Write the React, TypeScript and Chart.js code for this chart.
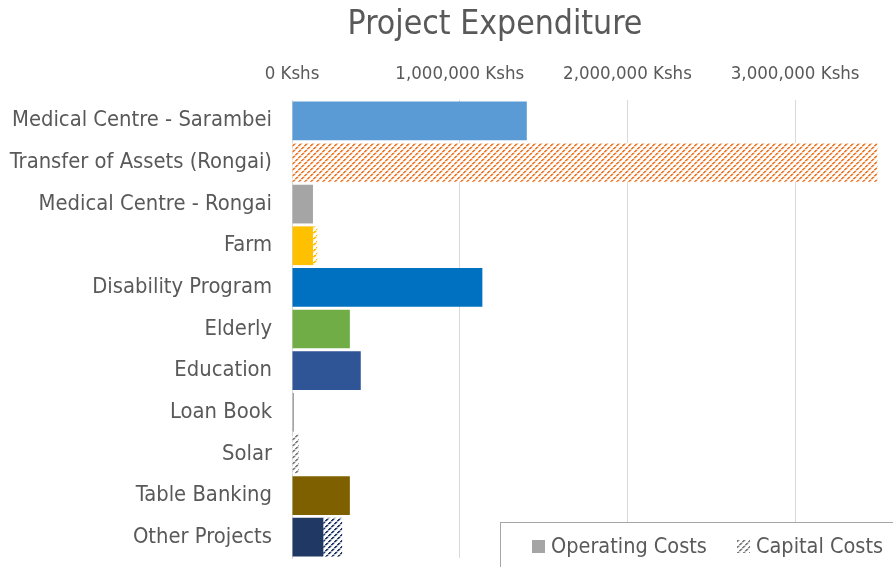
import React, { useEffect, useRef } from "react";
import { Chart, registerables } from "chart.js";
Chart.register(...registerables);

const chartTitle = "Project Expenditure";
const categories = [
  "Medical Centre - Sarambei",
  "Transfer of Assets (Rongai)",
  "Medical Centre - Rongai",
  "Farm",
  "Disability Program",
  "Elderly",
  "Education",
  "Loan Book",
  "Solar",
  "Table Banking",
  "Other Projects",
];
const operatingCosts = [1400000, 0, 125000, 125000, 1135000, 345000, 410000, 12000, 0, 345000, 187000];
const capitalCosts = [0, 3490000, 0, 25000, 0, 0, 0, 0, 40000, 0, 112000];
const barColors = [
  "#5B9BD5",
  "#ED7D31",
  "#A5A5A5",
  "#FFC000",
  "#0070C0",
  "#70AD47",
  "#2F5597",
  "#A5A5A5",
  "#7F7F7F",
  "#7F6000",
  "#203864",
];
const xTickValues = [0, 1000000, 2000000, 3000000];
const xMax = 3500000;
const seriesNames = ["Operating Costs", "Capital Costs"];

const FONT = "'DejaVu Sans Condensed', Lato";
const TEXT = "#595959";

function makePattern(ctx: CanvasRenderingContext2D, color: string): CanvasPattern {
  const n = 6;
  const c = document.createElement("canvas");
  c.width = n;
  c.height = n;
  const g = c.getContext("2d")!;
  g.fillStyle = "#ffffff";
  g.fillRect(0, 0, n, n);
  g.fillStyle = color;
  for (let y = 0; y < n; y++) {
    const x = n - 1 - y;
    const strong = y % 3 !== 2;
    g.globalAlpha = strong ? 1 : 0.4;
    g.fillRect(x, y, 1, 1);
    g.fillRect((x + 1) % n, y, 1, 1);
    g.globalAlpha = strong ? 0.35 : 0.15;
    g.fillRect((x + 2) % n, y, 1, 1);
  }
  return ctx.createPattern(c, "repeat")!;
}

export default function App() {
  const ref = useRef<HTMLCanvasElement>(null);
  useEffect(() => {
    document.body.style.margin = "0";
    const canvas = ref.current!;
    const ctx = canvas.getContext("2d")!;
    const patterns = barColors.map((c) => makePattern(ctx, c));
    const legendPattern = makePattern(ctx, "#7F7F7F");

    const overlay = {
      id: "overlay",
      afterDraw(chart: any) {
        const c = chart.ctx as CanvasRenderingContext2D;
        c.save();
        c.fillStyle = TEXT;
        c.font = `33.5px ${FONT}`;
        c.textAlign = "center";
        c.textBaseline = "middle";
        c.fillText(chartTitle, 495, 25);
        c.fillStyle = "#ffffff";
        c.fillRect(500, 522, 400, 50);
        c.strokeStyle = "#A6A6A6";
        c.lineWidth = 1;
        c.strokeRect(500.5, 522.5, 400, 50);
        c.fillStyle = "#A5A5A5";
        c.fillRect(532, 540, 13, 13);
        c.fillStyle = legendPattern;
        c.fillRect(737, 540, 13, 13);
        c.fillStyle = TEXT;
        c.font = `21.5px ${FONT}`;
        c.textAlign = "left";
        c.textBaseline = "middle";
        c.fillText(seriesNames[0], 551, 547);
        c.fillText(seriesNames[1], 756, 547);
        c.restore();
      },
    };

    const chart = new Chart(canvas, {
      type: "bar",
      data: {
        labels: categories,
        datasets: [
          {
            label: seriesNames[0],
            data: operatingCosts,
            backgroundColor: barColors,
            borderWidth: 0,
            categoryPercentage: 1,
            barPercentage: 0.93,
          },
          {
            label: seriesNames[1],
            data: capitalCosts,
            backgroundColor: patterns,
            borderWidth: 0,
            categoryPercentage: 1,
            barPercentage: 0.93,
          },
        ],
      },
      options: {
        indexAxis: "y",
        responsive: false,
        animation: false,
        devicePixelRatio: 1,
        layout: { padding: { left: 0, top: 0, right: 14, bottom: 9 } },
        plugins: {
          legend: { display: false },
          title: { display: false },
          tooltip: { enabled: false },
        },
        scales: {
          x: {
            type: "linear",
            position: "top",
            stacked: true,
            min: 0,
            max: xMax,
            afterBuildTicks: (scale: any) => {
              scale.ticks = xTickValues.map((v) => ({ value: v }));
            },
            afterFit: (scale: any) => {
              scale.height = 100;
              scale.paddingLeft = 0;
              scale.paddingRight = 0;
            },
            grid: { color: "#D9D9D9", drawTicks: false, tickLength: 0 },
            border: { display: false },
            ticks: {
              padding: 15,
              color: TEXT,
              font: { family: FONT, size: 18.5 },
              maxRotation: 0,
              callback: (v: any) => Number(v).toLocaleString("en-US") + " Kshs",
            },
          },
          y: {
            stacked: true,
            afterFit: (scale: any) => {
              scale.width = 292;
              scale.paddingTop = 0;
              scale.paddingBottom = 0;
            },
            grid: { display: false, drawTicks: false },
            border: { display: true, color: "#D9D9D9" },
            ticks: {
              padding: 20,
              color: TEXT,
              font: { family: FONT, size: 21.8 },
              autoSkip: false,
            },
          },
        },
      },
      plugins: [overlay],
    });
    return () => chart.destroy();
  }, []);
  return (
    <div style={{ width: 893, height: 567 }}>
      <canvas ref={ref} width={893} height={567} style={{ width: 893, height: 567, display: "block" }} />
    </div>
  );
}
